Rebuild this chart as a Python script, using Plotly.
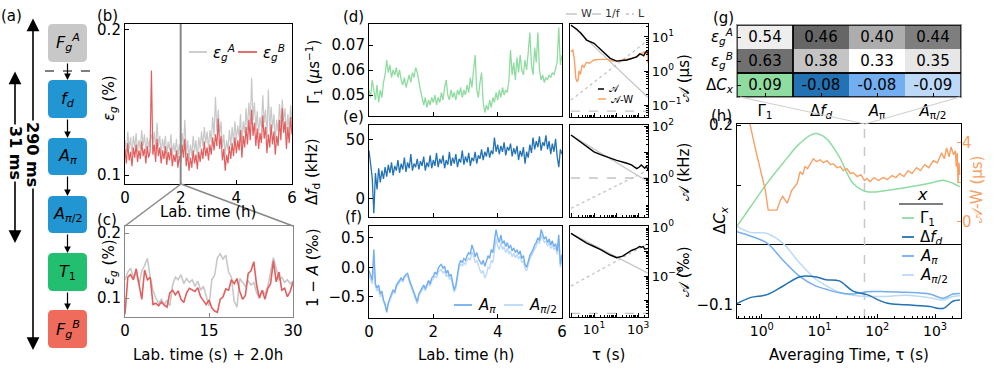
import plotly.graph_objects as go

W, H = 997, 381
FONT = 'DejaVu Sans'
def px(x): return x / W
def py(y): return 1 - y / H

# ------------------------------------------------------------------ data
t_h = [round(0.05 * i, 2) for i in range(121)]          # lab time (h)
eps_A_b = [0.124,0.115,0.130,0.118,0.126,0.114,0.127,0.119,0.129,0.116,
           0.124,0.118,0.131,0.120,0.128,0.115,0.126,0.119,0.124,0.128,
           0.121,0.130,0.117,0.136,0.120,0.127,0.115,0.125,0.118,0.127,
           0.114,0.123,0.117,0.128,0.113,0.122,0.116,0.125,0.112,0.121,
           0.115,0.129,0.119,0.138,0.114,0.124,0.111,0.121,0.113,0.127,
           0.116,0.124,0.112,0.126,0.118,0.130,0.120,0.133,0.122,0.130,
           0.118,0.131,0.123,0.140,0.127,0.154,0.130,0.145,0.127,0.137,
           0.119,0.128,0.114,0.124,0.117,0.131,0.120,0.133,0.122,0.137,
           0.124,0.134,0.126,0.142,0.121,0.137,0.129,0.146,0.131,0.150,
           0.135,0.167,0.138,0.150,0.131,0.144,0.128,0.140,0.133,0.155,
           0.136,0.145,0.126,0.159,0.130,0.147,0.132,0.142,0.124,0.138,
           0.130,0.149,0.134,0.152,0.138,0.146,0.127,0.142,0.131,0.148,
           0.136]
eps_B_b = [0.118,0.108,0.122,0.110,0.116,0.106,0.119,0.112,0.121,0.109,
           0.117,0.111,0.123,0.113,0.118,0.108,0.120,0.112,0.116,0.172,
           0.114,0.121,0.109,0.125,0.113,0.119,0.108,0.117,0.111,0.120,
           0.107,0.116,0.110,0.119,0.106,0.114,0.109,0.117,0.105,0.113,
           0.108,0.121,0.112,0.125,0.106,0.115,0.103,0.112,0.105,0.117,
           0.108,0.114,0.104,0.116,0.109,0.118,0.111,0.123,0.113,0.119,
           0.110,0.121,0.114,0.126,0.117,0.128,0.120,0.139,0.118,0.127,
           0.110,0.118,0.103,0.114,0.108,0.120,0.111,0.122,0.113,0.126,
           0.115,0.124,0.117,0.131,0.112,0.127,0.119,0.133,0.121,0.138,
           0.124,0.145,0.127,0.136,0.120,0.132,0.118,0.129,0.122,0.141,
           0.125,0.133,0.115,0.128,0.119,0.135,0.121,0.130,0.114,0.127,
           0.120,0.138,0.124,0.146,0.129,0.137,0.118,0.133,0.122,0.140,
           0.128]

t_s = [0.5 * i for i in range(61)]                        # seconds after 2.0 h
eps_A_c = [0.128,0.140,0.146,0.132,0.138,0.120,0.142,0.150,0.161,0.132,
           0.112,0.100,0.092,0.098,0.090,0.096,0.088,0.120,0.132,0.128,
           0.136,0.122,0.130,0.124,0.128,0.118,0.126,0.112,0.118,0.102,
           0.088,0.128,0.135,0.162,0.168,0.160,0.166,0.140,0.132,0.095,
           0.086,0.130,0.124,0.118,0.126,0.120,0.124,0.108,0.100,0.112,
           0.106,0.118,0.140,0.162,0.145,0.128,0.132,0.124,0.128,0.122,
           0.126]
eps_B_c = [0.075,0.132,0.136,0.128,0.145,0.118,0.098,0.143,0.128,0.132,
           0.090,0.092,0.088,0.094,0.089,0.086,0.108,0.112,0.105,0.111,
           0.098,0.093,0.108,0.115,0.113,0.110,0.116,0.102,0.096,0.090,
           0.097,0.085,0.080,0.078,0.098,0.102,0.114,0.112,0.128,0.122,
           0.130,0.110,0.098,0.104,0.138,0.142,0.156,0.120,0.100,0.112,
           0.098,0.115,0.122,0.157,0.125,0.140,0.112,0.115,0.102,0.110,
           0.125]

gamma1 = [0.052,0.049,0.056,0.051,0.048,0.054,0.047,0.052,0.049,0.055,
          0.058,0.064,0.059,0.062,0.057,0.060,0.058,0.061,0.057,0.060,
          0.056,0.054,0.057,0.053,0.056,0.058,0.055,0.059,0.057,0.061,
          0.059,0.055,0.052,0.049,0.046,0.049,0.045,0.048,0.046,0.049,
          0.047,0.050,0.046,0.049,0.047,0.051,0.048,0.053,0.056,0.050,
          0.048,0.052,0.049,0.051,0.048,0.052,0.050,0.053,0.049,0.052,
          0.050,0.054,0.051,0.057,0.053,0.060,0.066,0.052,0.049,0.055,
          0.059,0.047,0.043,0.046,0.044,0.048,0.045,0.049,0.047,0.051,
          0.048,0.052,0.049,0.053,0.050,0.052,0.051,0.056,0.068,0.058,
          0.063,0.056,0.065,0.059,0.066,0.060,0.058,0.064,0.060,0.067,
          0.075,0.062,0.058,0.069,0.063,0.075,0.060,0.056,0.058,0.055,
          0.057,0.056,0.058,0.057,0.059,0.058,0.061,0.063,0.077,0.062,
          0.066]
dfd = [41,28,18,-12,22,8,26,14,24,17,
       27,19,29,22,31,20,28,24,33,22,
       30,25,35,23,31,26,38,24,30,27,
       34,25,32,28,36,24,31,27,37,26,
       33,28,39,27,34,30,37,26,33,29,
       40,28,35,30,38,27,34,31,41,29,
       36,31,39,28,35,32,40,30,37,34,
       42,33,40,36,44,35,41,38,52,40,
       46,38,45,40,48,37,44,41,47,36,
       43,38,45,33,41,36,44,30,40,35,
       46,39,52,42,49,44,53,41,48,45,
       54,42,49,38,47,40,51,36,27,42,
       38]
amp_pi = [-0.05,-0.15,-0.22,0.30,-0.28,-0.35,-0.30,-0.45,-0.40,-0.55,
          -0.62,-0.76,-0.60,-0.52,-0.45,-0.38,-0.42,-0.30,-0.26,-0.22,
          -0.18,-0.22,-0.15,-0.12,-0.10,-0.20,-0.28,-0.35,-0.42,-0.50,
          -0.58,-0.45,-0.40,-0.34,-0.30,-0.36,-0.28,-0.22,-0.28,-0.18,
          -0.15,-0.08,-0.12,-0.02,0.03,0.05,-0.02,0.02,-0.10,-0.05,
          -0.15,-0.12,-0.25,-0.38,-0.30,-0.10,0.05,0.12,0.08,0.15,
          0.12,0.20,0.25,0.22,0.38,0.30,0.18,0.25,0.15,0.10,
          0.05,0.12,0.02,0.10,0.20,0.15,0.30,0.25,0.45,0.64,
          0.50,0.42,0.55,0.40,0.45,0.35,0.42,0.32,0.38,0.28,
          0.33,0.25,0.30,0.22,0.28,0.15,0.20,0.05,0.00,0.12,
          0.20,0.25,0.30,0.38,0.42,0.50,0.45,0.64,0.55,0.48,
          0.52,0.42,0.48,0.38,0.45,0.35,0.40,0.28,0.55,0.05,
          0.22]
amp_pi2 = [-0.12,-0.20,-0.28,0.05,-0.32,-0.40,-0.36,-0.50,-0.45,-0.58,
           -0.66,-0.72,-0.62,-0.55,-0.48,-0.42,-0.44,-0.34,-0.30,-0.25,
           -0.20,-0.25,-0.18,-0.15,-0.14,-0.24,-0.32,-0.38,-0.45,-0.55,
           -0.62,-0.48,-0.44,-0.38,-0.34,-0.40,-0.32,-0.26,-0.32,-0.22,
           -0.20,-0.14,-0.18,-0.08,-0.05,-0.04,-0.10,-0.06,-0.16,-0.12,
           -0.20,-0.18,-0.30,-0.42,-0.36,-0.16,0.00,0.06,0.02,0.08,
           0.05,0.12,0.16,0.12,0.26,0.20,0.08,0.12,0.02,-0.05,
           -0.10,-0.05,-0.18,-0.12,0.00,-0.02,0.12,0.08,0.28,0.48,
           0.36,0.30,0.42,0.30,0.35,0.25,0.32,0.22,0.28,0.18,
           0.24,0.16,0.22,0.14,0.20,0.08,0.12,-0.02,-0.06,0.06,
           0.14,0.20,0.25,0.32,0.36,0.44,0.40,0.55,0.48,0.42,
           0.45,0.36,0.42,0.32,0.38,0.30,0.34,0.22,0.40,0.00,
           0.15]

# Allan deviations
tau_g = [0.9, 1.6, 2.5, 4.6, 10, 20, 54, 107, 310, 870, 1200, 1500, 1800, 2200, 2500, 2800]
allan_gamma = [22, 17, 13, 8.1, 6.5, 4.2, 2.35, 1.95, 2.1, 2.6, 3.2, 3.0, 2.8, 3.6, 3.7, 3.3]
tau_gw = [0.9, 1.1, 1.3, 1.5, 1.7, 1.9, 2.1, 2.4, 2.9, 3.5, 4.5, 6, 8, 10, 20, 40, 60, 107,
          200, 310, 500, 870, 1200, 1500, 1900, 2300, 2600, 2800]
allan_gamma_w = [3.7, 4.1, 2.0, 0.6, 0.5, 0.55, 1.0, 0.8, 1.5, 1.3, 1.8, 1.7, 1.9, 2.1, 2.2, 2.2,
                 2.0, 1.95, 2.1, 2.2, 2.3, 2.7, 3.1, 3.3, 3.6, 3.4, 3.8, 1.7]
tau_f = [0.9, 2, 4.6, 10, 20, 54, 107, 310, 500, 870, 1100, 1400, 1700, 2000, 2400, 2800]
allan_dfd = [45, 27, 15.5, 10.2, 8, 5.8, 4.8, 3.7, 3.2, 2.3, 2.6, 3.2, 2.7, 2.4, 2.9, 2.0]
tau_a = [0.9, 2, 4.6, 10, 20, 54, 107, 200, 310, 500, 870, 1170, 1400, 1700, 2000, 2400, 2800]
allan_amp = [0.55, 0.36, 0.22, 0.16, 0.12, 0.072, 0.056, 0.065, 0.085, 0.11, 0.135, 0.16,
             0.15, 0.16, 0.125, 0.13, 0.135]
tau_ref = [0.9, 2800]
W_gamma, F_gamma, L_gamma = [23, 0.17], [0.066, 0.066], [0.14, 8.0]
W_dfd, F_dfd, L_dfd = [45, 0.72], [1.0, 1.0], [0.068, 2.0]
W_amp, F_amp, L_amp = [0.55, 0.013], [0.0003, 0.0003], [0.0039, 0.21]

# correlation table
table_cols = ['Γ<sub>1</sub>', 'Δ<i>f</i><sub><i>d</i></sub>', '<i>A</i><sub>π</sub>', '<i>A</i><sub>π/2</sub>']
table_rows = ['<i>ε</i><sub><i>g</i></sub><sup><i>A</i></sup>', '<i>ε</i><sub><i>g</i></sub><sup><i>B</i></sup>',
              'Δ<i>C</i><sub><i>x</i></sub>']
corr_A = [0.54, 0.46, 0.40, 0.44]
corr_B = [0.63, 0.38, 0.33, 0.35]
delta_C = [0.09, -0.08, -0.08, -0.09]

# ΔC_x vs averaging time
tau_cx = [0.37, 0.63, 1.23, 2.3, 4.6, 8.3, 13, 22, 38, 66, 145, 320, 810, 1380, 2040, 2700]
dc_gamma = [0.031, 0.063, 0.103, 0.136, 0.170, 0.186, 0.178, 0.147, 0.103, 0.089, 0.091, 0.096, 0.103, 0.108, 0.103, 0.097]
dc_dfd = [-0.098, -0.088, -0.083, -0.069, -0.053, -0.053, -0.058, -0.060, -0.077, -0.083, -0.097, -0.100, -0.103, -0.106, -0.094, -0.092]
dc_api = [0.022, 0.015, 0.003, -0.025, -0.053, -0.068, -0.074, -0.080, -0.082, -0.078, -0.078, -0.079, -0.082, -0.089, -0.082, -0.081]
dc_api2 = [0.031, 0.021, 0.019, 0.003, -0.031, -0.056, -0.068, -0.079, -0.084, -0.086, -0.086, -0.084, -0.088, -0.092, -0.086, -0.085]
tau_aw = [0.55, 0.63, 0.76, 0.93, 1.15, 1.29, 1.55, 1.82, 2.1, 2.3, 2.75, 3.3, 4.1, 4.6, 5.1, 5.6, 6.2,
          6.9, 7.8, 8.9, 10.2, 11.7, 13.5, 15.5, 17.4, 20, 23, 25.7, 30, 34, 38, 45, 52, 60, 66, 75,
          88, 105, 126, 150, 180, 210, 245, 290, 340, 400, 479, 560, 660, 780, 933, 1100, 1300,
          1450, 1585, 1750, 1900, 2090, 2250, 2340, 2420, 2510, 2600, 2690]
allan_w_h = [5.3, 4.9, 3.8, 2.8, 1.6, 0.6, 0.6, 0.6, 1.1, 1.3, 0.95, 1.6, 1.95, 2.55, 2.4, 2.8, 2.7,
             2.97, 3.2, 3.05, 3.15, 3.0, 3.1, 2.9, 2.95, 2.75, 2.8, 2.6, 2.7, 2.45, 2.5, 2.3, 2.4, 2.1,
             2.2, 2.05, 2.25, 2.1, 2.25, 2.15, 2.35, 2.25, 2.45, 2.3, 2.6, 2.45, 2.75, 2.6, 2.9, 2.75,
             3.1, 3.0, 3.5, 3.2, 3.75, 3.3, 3.8, 3.4, 3.6, 2.8, 3.5, 1.96, 3.0, 2.38]
tau_mark = 60

# ------------------------------------------------------------------ colours
C_GREEN, C_DBLUE, C_MBLUE, C_LBLUE = '#8fdca0', '#2272b4', '#72aef0', '#bcdaf8'
C_ORANGE, C_GRAYL, C_RED = '#f8a064', '#c8c8c8', '#e35f5f'
C_REF = '#c4c4c4'

shapes, annotations, traces = [], [], []

def ann(x, y, text, size=15, color='black', xanchor='center', yanchor='middle', angle=0, **kw):
    d = dict(x=px(x), y=py(y), xref='paper', yref='paper', text=text, showarrow=False,
             font=dict(size=size, color=color, family=FONT), xanchor=xanchor, yanchor=yanchor,
             textangle=angle)
    d.update(kw)
    annotations.append(d)

def pline(x0, y0, x1, y1, color='black', width=1.0, dash='solid'):
    shapes.append(dict(type='line', xref='paper', yref='paper', x0=px(x0), y0=py(y0),
                       x1=px(x1), y1=py(y1), line=dict(color=color, width=width, dash=dash)))

def rrect(x0, y0, x1, y1, r, fill):
    P = lambda a, b: f'{px(a):.5f},{py(b):.5f}'
    path = (f'M {P(x0+r,y0)} L {P(x1-r,y0)} Q {P(x1,y0)} {P(x1,y0+r)} L {P(x1,y1-r)} '
            f'Q {P(x1,y1)} {P(x1-r,y1)} L {P(x0+r,y1)} Q {P(x0,y1)} {P(x0,y1-r)} '
            f'L {P(x0,y0+r)} Q {P(x0,y0)} {P(x0+r,y0)} Z')
    shapes.append(dict(type='path', xref='paper', yref='paper', path=path,
                       fillcolor=fill, line=dict(width=0)))

def arrow(x, yhead, ytail, width=1.2, size=1.0, both=False):
    d = dict(x=px(x), y=py(yhead), xref='paper', yref='paper', ax=0, ay=ytail - yhead,
             text='', showarrow=True, arrowhead=2, arrowsize=size, arrowwidth=width,
             arrowcolor='black', standoff=0, startstandoff=0)
    if both:
        d.update(arrowside='end+start', startarrowhead=2, startarrowsize=size)
    annotations.append(d)

def legend_entry(x0, x1, y, color, text, dash='solid', width=1.5, size=15, tcolor='black', gap=4):
    pline(x0, y, x1, y, color=color, width=width, dash=dash)
    ann(x1 + gap, y, text, size=size, color=tcolor, xanchor='left')

def base_axis(**kw):
    d = dict(showline=True, linecolor='black', linewidth=1.1, mirror=True,
             ticks='inside', ticklen=4, tickwidth=1, tickcolor='black',
             showgrid=False, zeroline=False, automargin=False,
             tickfont=dict(family=FONT, size=15, color='black'))
    d.update(kw)
    return d

def minors(e0, e1):
    return [m * 10 ** e for e in range(e0, e1 + 1) for m in range(2, 10)]

sup = lambda e: f'10<sup>{e}</sup>'

# ------------------------------------------------------------------ (a) flowchart
boxes = [(24, 62, '#c8c8c8', '<i>F</i><sub><i>g</i></sub><sup><i>A</i></sup>'),
         (80, 118, '#2196d3', '<i>f</i><sub><i>d</i></sub>'),
         (138, 175, '#2196d3', '<i>A</i><sub><i>π</i></sub>'),
         (196, 233, '#2196d3', '<i>A</i><sub><i>π</i>/2</sub>'),
         (253, 291, '#22bf70', '<i>T</i><sub>1</sub>'),
         (310, 348, '#ef6b5b', '<i>F</i><sub><i>g</i></sub><sup><i>B</i></sup>')]
for i, (y0, y1, col, txt) in enumerate(boxes):
    rrect(48, y0, 87, y1, 5, col)
    ann(67.5, (y0 + y1) / 2, txt, size=16)
    if i + 1 < len(boxes):
        arrow(67.5, boxes[i + 1][0], y1, width=1.2, size=1.1)
pline(45, 71, 90, 71, dash='dash', width=1)
arrow(33, 350, 17, width=1.6, size=1.6, both=True)
arrow(15, 243, 70, width=1.6, size=1.6, both=True)
ann(33, 154, '<b>290 ms</b>', size=16, angle=90, bgcolor='white')
ann(15, 153, '<b>31 ms</b>', size=16, angle=90, bgcolor='white')

# ------------------------------------------------------------------ traces
def sc(x, y, xa, ya, color, width=1.2, dash='solid', shape='linear', opacity=1.0):
    traces.append(go.Scatter(x=x, y=y, xaxis=xa, yaxis=ya, mode='lines', opacity=opacity,
                             line=dict(color=color, width=width, dash=dash, shape=shape),
                             hoverinfo='skip'))

sc(t_h, eps_A_b, 'x', 'y', C_GRAYL, 1.2)
sc(t_h, eps_B_b, 'x', 'y', C_RED, 1.2)
sc(t_s, eps_A_c, 'x2', 'y2', C_GRAYL, 1.6)
sc(t_s, eps_B_c, 'x2', 'y2', C_RED, 1.6)
sc(t_h, gamma1, 'x3', 'y3', C_GREEN, 1.3)
sc(t_h, dfd, 'x4', 'y4', C_DBLUE, 1.3)
sc(t_h, amp_pi2, 'x5', 'y5', C_LBLUE, 1.4)
sc(t_h, amp_pi, 'x5', 'y5', C_MBLUE, 1.4)

for (xa, ya, Wl, Fl, Ll) in [('x6', 'y6', W_gamma, F_gamma, L_gamma),
                             ('x7', 'y7', W_dfd, F_dfd, L_dfd),
                             ('x8', 'y8', W_amp, F_amp, L_amp)]:
    sc(tau_ref, Wl, xa, ya, C_REF, 1.3)
    sc(tau_ref, Fl, xa, ya, C_REF, 1.3, dash='dash')
    sc(tau_ref, Ll, xa, ya, C_REF, 1.3, dash='dot')
sc(tau_gw, allan_gamma_w, 'x6', 'y6', C_ORANGE, 1.4)
sc(tau_g, allan_gamma, 'x6', 'y6', 'black', 1.4)
sc(tau_f, allan_dfd, 'x7', 'y7', 'black', 1.4)
sc(tau_a, allan_amp, 'x8', 'y8', 'black', 1.4)

# (g) table heatmaps
gray_scale = [[0, '#ffffff'], [1, '#666666']]
traces.append(go.Heatmap(x=[0], y=[0, 1], z=[[corr_A[0]], [corr_B[0]]], xaxis='x9', yaxis='y9',
                         colorscale=gray_scale, zmin=0.528, zmax=0.637, showscale=False,
                         text=[[f'{corr_A[0]:.2f}'], [f'{corr_B[0]:.2f}']], texttemplate='%{text}',
                         textfont=dict(size=15, color='black', family=FONT), hoverinfo='skip'))
traces.append(go.Heatmap(x=[1, 2, 3], y=[0, 1], z=[corr_A[1:], corr_B[1:]], xaxis='x9', yaxis='y9',
                         colorscale=gray_scale, zmin=0.33, zmax=0.46, showscale=False,
                         text=[[f'{v:.2f}' for v in corr_A[1:]], [f'{v:.2f}' for v in corr_B[1:]]],
                         texttemplate='%{text}', textfont=dict(size=15, color='black', family=FONT),
                         hoverinfo='skip'))
cat_scale = [[0, C_GREEN], [0.1667, C_GREEN], [0.1667, C_DBLUE], [0.5, C_DBLUE],
             [0.5, C_MBLUE], [0.8333, C_MBLUE], [0.8333, C_LBLUE], [1, C_LBLUE]]
traces.append(go.Heatmap(x=[0, 1, 2, 3], y=[2], z=[[0, 1, 2, 3]], xaxis='x9', yaxis='y9',
                         colorscale=cat_scale, zmin=0, zmax=3, showscale=False,
                         text=[[f'{v:.2f}' for v in delta_C]], texttemplate='%{text}',
                         textfont=dict(size=15, color='black', family=FONT), hoverinfo='skip'))
for (a, b, c, d) in [(-0.5, 0.5, -0.5, 1.5), (0.5, 3.5, -0.5, 1.5), (-0.5, 0.5, 1.5, 2.5), (0.5, 3.5, 1.5, 2.5)]:
    shapes.append(dict(type='rect', xref='x9', yref='y9', x0=a, x1=b, y0=c, y1=d,
                       line=dict(color='black', width=1.3)))

# (h)
sc([tau_mark, tau_mark], [-0.122, 0.202], 'x10', 'y10', '#c8c8c8', 1.5, dash='dash')
sc(tau_cx, dc_gamma, 'x10', 'y10', C_GREEN, 1.5, shape='spline')
sc(tau_cx, dc_api2, 'x10', 'y10', C_LBLUE, 1.5, shape='spline')
sc(tau_cx, dc_api, 'x10', 'y10', C_MBLUE, 1.5, shape='spline')
sc(tau_cx, dc_dfd, 'x10', 'y10', C_DBLUE, 1.5, shape='spline')
sc(tau_aw, allan_w_h, 'x10', 'y11', C_ORANGE, 1.4)

# ------------------------------------------------------------------ layout / axes
L = dict(width=W, height=H, margin=dict(l=0, r=0, t=0, b=0, autoexpand=False), paper_bgcolor='white',
         plot_bgcolor='rgba(0,0,0,0)', showlegend=False,
         font=dict(family=FONT, size=15, color='black'))

L['xaxis'] = base_axis(domain=[px(125), px(292)], range=[0, 6], tickvals=[0, 2, 4, 6], anchor='y')
L['yaxis'] = base_axis(domain=[py(184), py(24)], range=[0.0938, 0.2041], tickvals=[0.1, 0.2], anchor='x')
L['xaxis2'] = base_axis(domain=[px(125), px(293)], range=[0, 30], tickvals=[0, 15, 30], anchor='y2',
                        linecolor='#888888', tickcolor='#888888')
L['yaxis2'] = base_axis(domain=[py(317), py(226)], range=[0.0708, 0.2108], tickvals=[0.1, 0.2], anchor='x2',
                        linecolor='#888888', tickcolor='#888888')
L['xaxis3'] = base_axis(domain=[px(369), px(562)], range=[0, 6], tickvals=[0, 2, 4, 6], showticklabels=False, anchor='y3')
L['yaxis3'] = base_axis(domain=[py(116), py(24)], range=[0.0416, 0.0784], tickvals=[0.05, 0.06, 0.07], anchor='x3')
L['xaxis4'] = base_axis(domain=[px(369), px(562)], range=[0, 6], tickvals=[0, 2, 4, 6], showticklabels=False, anchor='y4')
L['yaxis4'] = base_axis(domain=[py(217), py(125)], range=[-15.3, 62.7], tickvals=[0, 50], anchor='x4')
L['xaxis5'] = base_axis(domain=[px(369), px(562)], range=[0, 6], tickvals=[0, 2, 4, 6], anchor='y5')
L['yaxis5'] = base_axis(domain=[py(318), py(226)], range=[-0.856, 0.70], tickvals=[-0.5, 0, 0.5],
                        ticktext=['−0.5', '0.0', '0.5'], anchor='x5')

alx = dict(type='log', domain=[px(570), px(648)], range=[-0.09, 3.45], tickvals=[1, 10, 100, 1000],
           minor=dict(tickvals=minors(-1, 3), ticks='inside', ticklen=2, tickcolor='black'))
L['xaxis6'] = base_axis(**alx, showticklabels=False, anchor='y6')
L['xaxis7'] = base_axis(**alx, showticklabels=False, anchor='y7')
L['xaxis8'] = base_axis(**alx, ticktext=['', sup(1), '', sup(3)], anchor='y8')
L['xaxis8']['tickfont'] = dict(family=FONT, size=13, color='black')
aly = dict(type='log', side='right', tickfont=dict(family=FONT, size=13, color='black'))
L['yaxis6'] = base_axis(**aly, domain=[py(117), py(24)], range=[-1.35, 1.38], tickvals=[0.1, 1, 10],
                        ticktext=[sup('−1'), sup(0), sup(1)], anchor='x6',
                        minor=dict(tickvals=minors(-2, 1), ticks='inside', ticklen=2, tickcolor='black'))
L['yaxis7'] = base_axis(**aly, domain=[py(217), py(125)], range=[-1.5, 2.04], tickvals=[1, 10, 100],
                        ticktext=[sup(0), '', sup(2)], anchor='x7',
                        minor=dict(tickvals=minors(-2, 2), ticks='inside', ticklen=2, tickcolor='black'))
L['yaxis8'] = base_axis(**aly, domain=[py(317), py(226)], range=[-3.67, 0.04],
                        tickvals=[0.001, 0.01, 0.1, 1], ticktext=['', sup('−2'), '', sup(0)], anchor='x8',
                        minor=dict(tickvals=minors(-4, 0), ticks='inside', ticklen=2, tickcolor='black'))

L['xaxis9'] = base_axis(domain=[px(737), px(961)], range=[-0.5, 3.5], tickvals=[0, 1, 2, 3],
                        ticktext=table_cols, anchor='y9', linecolor='#999999')
L['yaxis9'] = base_axis(domain=[py(97), py(25)], range=[2.5, -0.5], tickvals=[0, 1, 2],
                        ticktext=table_rows, anchor='x9', linecolor='#999999')

L['xaxis10'] = base_axis(type='log', domain=[px(737), px(961)], range=[-0.43, 3.45],
                         tickvals=[1, 10, 100, 1000], ticktext=[sup(0), sup(1), sup(2), sup(3)],
                         tickfont=dict(family=FONT, size=14, color='black'), anchor='y10',
                         minor=dict(tickvals=minors(-1, 3), ticks='inside', ticklen=2, tickcolor='black'))
L['yaxis10'] = base_axis(domain=[py(318), py(124)], range=[-0.122, 0.202], tickvals=[-0.1, 0, 0.1, 0.2],
                         ticktext=['−0.1', '', '', '0.2'], anchor='x10',
                         zeroline=True, zerolinecolor='black', zerolinewidth=1.2)
L['yaxis11'] = dict(overlaying='y10', side='right', anchor='x10', range=[-4.86, 4.96], tickvals=[0, 2, 4],
                    ticktext=['0', '', '4'], ticks='inside', ticklen=4, tickcolor=C_ORANGE,
                    showline=False, showgrid=False, zeroline=False, automargin=False,
                    tickfont=dict(family=FONT, size=15, color=C_ORANGE))

# ------------------------------------------------------------------ decorations
shapes.append(dict(type='line', xref='x', yref='y domain', x0=2, x1=2, y0=0, y1=1,
                   line=dict(color='#888888', width=2)))
pline(181, 184, 125, 226, color='#888888', width=1.5)
pline(181, 184, 293, 226, color='#888888', width=1.5)
pline(740, 97, 865, 124, color='#d0d0d0', width=1.2)
pline(960, 97, 865, 124, color='#d0d0d0', width=1.2)

# panel labels
for (x, y, t) in [(11, 16, '(a)'), (107, 16, '(b)'), (107, 220, '(c)'), (353, 17, '(d)'),
                  (353, 117, '(e)'), (353, 217, '(f)'), (723, 18, '(g)'), (721, 116, '(h)')]:
    ann(x, y, t, size=15)

# axis titles
eg = '<i>ε</i><sub><i>g</i></sub> (%)'
ann(109, 98, eg, angle=-90)
ann(109, 262, eg, angle=-90)
ann(208, 212, 'Lab. time (h)')
ann(208, 355, 'Lab. time (s) + 2.0h')
ann(313, 72, 'Γ<sub>1</sub> (<i>μ</i>s<sup>−1</sup>)', angle=-90)
ann(313, 172, 'Δ<i>f</i><sub>d</sub> (kHz)', angle=-90)
ann(313, 268, '1 − <i>A</i> (‰)', angle=-90)
ann(466, 355, 'Lab. time (h)')
ann(608, 355, 'τ (s)')
ann(684, 78, '𝒜 (μs)', angle=-90)
ann(684, 172, '𝒜 (kHz)', angle=-90)
ann(684, 272, '𝒜 (‰)', angle=-90)
ann(849, 355, 'Averaging Time, τ (s)')
ann(720, 220, 'Δ<i>C</i><sub><i>x</i></sub>', angle=-90)
ann(977, 190, '𝒜-W (μs)', color=C_ORANGE, angle=-90)

# legends
legend_entry(189, 207, 52, C_GRAYL, '<i>ε</i><sub><i>g</i></sub><sup><i>A</i></sup>', width=1.8)
legend_entry(238, 257, 52, C_RED, '<i>ε</i><sub><i>g</i></sub><sup><i>B</i></sup>', width=1.8)
legend_entry(454, 472, 305, C_MBLUE, '<i>A</i><sub><i>π</i></sub>', width=1.8)
legend_entry(504, 523, 305, C_LBLUE, '<i>A</i><sub><i>π</i>/2</sub>', width=1.8)
legend_entry(566, 577, 14, C_REF, 'W', size=11, tcolor='#333333', gap=2)
legend_entry(592, 601, 14, C_REF, '1/f', dash='dash', size=11, tcolor='#333333', gap=2)
legend_entry(626, 634, 14, C_REF, 'L', dash='dot', size=11, tcolor='#333333', gap=2)
legend_entry(598, 604, 89, 'black', '𝒜', size=10, gap=3)
legend_entry(598, 606, 99, C_ORANGE, '𝒜-W', size=10, gap=3)
ann(922, 194, '<i>x</i>', size=16)
pline(899, 204, 943, 204, color='black', width=1.2)
legend_entry(902, 914, 218, C_GREEN, 'Γ<sub>1</sub>', width=1.8)
legend_entry(902, 914, 237, C_DBLUE, 'Δ<i>f</i><sub><i>d</i></sub>', width=1.8)
legend_entry(902, 914, 256, C_MBLUE, '<i>A</i><sub><i>π</i></sub>', width=1.8)
legend_entry(902, 914, 275, C_LBLUE, '<i>A</i><sub><i>π</i>/2</sub>', width=1.8)

L['shapes'] = shapes
L['annotations'] = annotations
fig = go.Figure(data=traces, layout=L)
fig.write_html('out.html', config={'displayModeBar': False},
               post_script="document.body.style.margin='0';document.body.style.overflow='hidden';")
